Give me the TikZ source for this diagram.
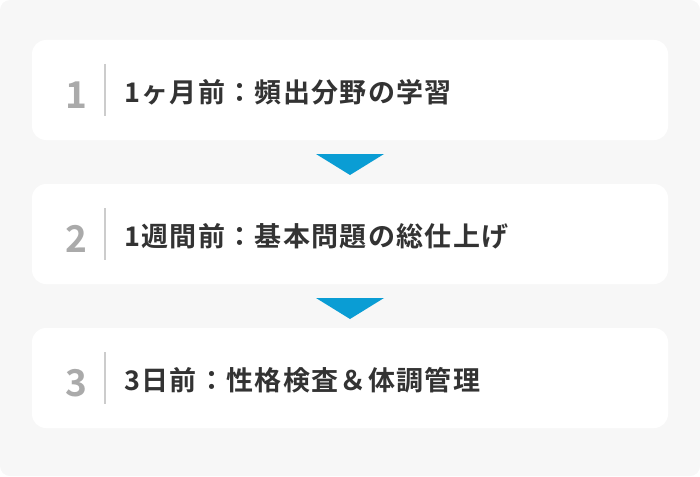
\documentclass[tikz,border=0pt]{standalone}
\usepackage{fontspec}
\newfontfamily\jpb{Noto Sans CJK JP Bold}
\newfontfamily\jpbs[LetterSpace=5]{Noto Sans CJK JP Bold}
\definecolor{bgc}{HTML}{F7F7F7}
\definecolor{arrc}{HTML}{0A9DD4}
\definecolor{numc}{HTML}{AAAAAA}
\definecolor{txtc}{HTML}{333333}
\definecolor{sepc}{HTML}{CCCCCC}
\tikzset{
  card/.style={fill=white, rounded corners=14pt},
  numlbl/.style={inner sep=0pt, anchor=base, text=numc, font=\jpb\fontsize{37}{40}\selectfont},
  steptxt/.style={inner sep=0pt, anchor=base west, text=txtc, font=\jpbs\fontsize{27}{30}\selectfont},
  sepline/.style={draw=sepc, line width=1.5pt},
  downtri/.style={fill=arrc}
}
\begin{document}
\begin{tikzpicture}[x=1pt,y=-1pt]
\useasboundingbox (0,0) rectangle (700,476);
\fill[bgc, rounded corners=10pt] (0,0) rectangle (700,476);
\foreach \i/\cy/\t in {1/90/{1ヶ月前：頻出分野の学習},2/234/{1週間前：基本問題の総仕上げ},3/378/{3日前：性格検査＆体調管理}}{
  \fill[card] (32,\cy-50) rectangle (668,\cy+50);
  \node[numlbl] (n\i) at (76,\cy+18) {\i};
  \coordinate (sa\i) at (105,\cy-26);
  \coordinate (sb\i) at (105,\cy+26);
  \draw[sepline] (sa\i) -- (sb\i);
  \node[steptxt] (t\i) at (124,\cy+12.5) {\t};
}
\foreach \cy in {154,298}{
  \fill[downtri] (316,\cy) -- (384,\cy) -- (350,\cy+21) -- cycle;
}
\end{tikzpicture}
\end{document}
